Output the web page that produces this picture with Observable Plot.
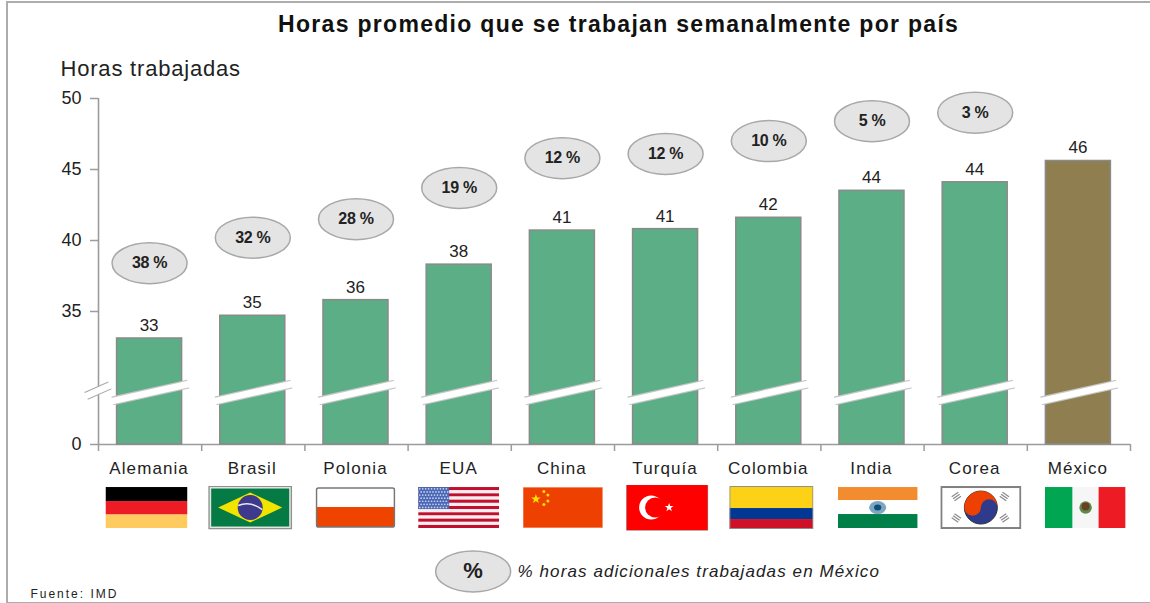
<!DOCTYPE html>
<html lang="es">
<head>
<meta charset="utf-8">
<script src="https://cdn.jsdelivr.net/npm/d3@7"></script>
<script src="https://cdn.jsdelivr.net/npm/@observablehq/plot@0.6"></script>
<style>
html,body{margin:0;padding:0;background:#fff;overflow:hidden}
#wrap{position:relative;width:1150px;height:603px;overflow:hidden}
#edge{position:absolute;left:6px;top:1px;width:1200px;height:599px;border:2px solid #adadad}
#chart{position:absolute;left:0;top:0}
#chart svg{display:block}
</style>
</head>
<body>
<div id="wrap"><div id="edge"></div><div id="chart"></div></div>
<script>
// ---- data ----
const paises = ["Alemania","Brasil","Polonia","EUA","China","Turquía","Colombia","India","Corea","México"];
const horas = [33.1,34.7,35.8,38.3,40.7,40.8,41.6,43.5,44.1,45.6];
const porcentajes = [38,32,28,19,12,12,10,5,3];
const ticksHoras = [0,35,40,45,50];

// ---- layout helpers (annotation placement, not data) ----
const burbujaY = [38.4,40.2,41.5,43.7,45.8,46.1,47,48.4,49];
const banderaDx = [-0.035,-0.03,-0.01,-0.01,0,0.01,0.02,0.05,0.05,0.06];
const filas = {titulo:55.2, ejeTitulo:52.05, pais:-11.6, bandera:-30.5, leyenda:-61.4, fuente:-72.6};

const GRIS="#9c9c9c", TXT="#222";

const ellipse = {draw(c){
  const rx=37.5, ry=20.5, k=0.5523;
  c.moveTo(rx,0);
  c.bezierCurveTo(rx,ry*k,rx*k,ry,0,ry);
  c.bezierCurveTo(-rx*k,ry,-rx,ry*k,-rx,0);
  c.bezierCurveTo(-rx,-ry*k,-rx*k,-ry,0,-ry);
  c.bezierCurveTo(rx*k,-ry,rx,-ry*k,rx,0);
  c.closePath();
}};

const spaced = px => (i,s,v,d,c,next) => {
  const g = next(i,s,v,d,c);
  g.style.letterSpacing = px;
  return g;
};

const star = (cx,cy,r,fill) => {
  let p=[];
  for(let a=0;a<10;a++){
    const R=a%2?r*0.4:r, t=-Math.PI/2+a*Math.PI/5;
    p.push((cx+R*Math.cos(t)).toFixed(2)+","+(cy+R*Math.sin(t)).toFixed(2));
  }
  return `<polygon points="${p.join(" ")}" fill="${fill}"/>`;
};

function wrapSvg(w,h,s){return `<svg xmlns="http://www.w3.org/2000/svg" viewBox="0 0 ${w} ${h}" width="${w}" height="${h}">${s}</svg>`;}
function usa(){
  let s="";
  for(let i=0;i<13;i++) s+=`<rect x="0" y="${i*3.16}" width="81" height="3.2" fill="${i%2?'#f4eef2':'#c0102e'}"/>`;
  s+=`<rect width="31" height="22" fill="#4a68b6"/>`;
  for(let r=0;r<7;r++) for(let q=0;q<10;q++) s+=`<circle cx="${1.6+q*2.95+(r%2?1.4:0)}" cy="${1.8+r*3.1}" r="0.85" fill="#c9d3ee"/>`;
  return wrapSvg(81,41,s);
}
const trig=(x,y,rot)=>`<g transform="translate(${x} ${y}) rotate(${rot})" stroke="#8a8a8a" stroke-width="1.2"><path d="M-4 -2.4H4M-4 0H4M-4 2.4H4"/></g>`;

const banderas = [
  wrapSvg(82,41,`<rect width="82" height="14" fill="#000"/><rect y="14" width="82" height="13.5" fill="#ed1c24"/><rect y="27.5" width="82" height="13.5" fill="#fecb5e"/>`),
  wrapSvg(84,44,`<rect width="84" height="44" fill="#8f8f8f"/><rect x="1.5" y="1.5" width="81" height="41" fill="#dfe8e0"/><rect x="3" y="3" width="78" height="38" fill="#067a44"/><polygon points="42,7 74,22 42,37 10,22" fill="#f3e400"/><circle cx="42" cy="22" r="12.5" fill="#3d3a8e"/><path d="M30 20 Q42 15 54 24" stroke="#e8e8e8" stroke-width="1.6" fill="none"/>`),
  wrapSvg(80,41,`<rect x="1" y="1" width="78" height="39" rx="2" fill="#fff"/><path d="M1 20H79V38a2 2 0 0 1-2 2H3a2 2 0 0 1-2-2Z" fill="#ee4400"/><rect x="1" y="1" width="78" height="39" rx="2" fill="none" stroke="#777" stroke-width="1.6"/>`),
  usa(),
  wrapSvg(80,41,`<rect width="80" height="41" fill="#ee4000" stroke="#f7c4b0"/>`+star(13,12,5,"#ffe000")+[[21,4.5],[25,8],[25,14],[21,17.5]].map(([x,y])=>`<circle cx="${x}" cy="${y}" r="1.5" fill="#ffe000"/>`).join("")),
  wrapSvg(82,46,`<rect width="82" height="46" fill="#ff0000" stroke="#999"/><circle cx="25" cy="23" r="12" fill="#fff"/><circle cx="29" cy="23" r="10" fill="#ff0000"/>`+star(43,23,4.6,"#fff")),
  wrapSvg(84,43,`<rect width="84" height="22" fill="#fdd116"/><rect y="22" width="84" height="11" fill="#003893"/><rect y="33" width="84" height="10" fill="#ce1126"/><rect x=".5" y=".5" width="83" height="42" fill="none" stroke="#8f8f8f"/>`),
  wrapSvg(80,41,`<rect width="80" height="13" fill="#f28c2e"/><rect y="13" width="80" height="14" fill="#fff"/><rect y="27" width="80" height="14" fill="#008048"/><ellipse cx="40" cy="20.5" rx="8.5" ry="6.5" fill="#7fa6c0"/><ellipse cx="40" cy="20.5" rx="3.6" ry="3" fill="#0b4f7c"/>`),
  wrapSvg(81,43,`<rect x="1" y="1" width="79" height="41" fill="#fff" stroke="#808080" stroke-width="2"/><circle cx="40.5" cy="21.5" r="16.5" fill="#2e3a8c" stroke="#333" stroke-width="1"/><path d="M24 21.5a16.5 16.5 0 0 1 33 0 8.25 8.25 0 0 0-16.5 0 8.25 8.25 0 0 1-16.5 0Z" fill="#ee4000"/>`+trig(16,10.5,-35)+trig(64,10.5,35)+trig(16,32,35)+trig(64,32,-35)),
  wrapSvg(81,41,`<rect width="28" height="41" fill="#00a651"/><rect x="28" width="26" height="41" fill="#f6f6f6"/><rect x="54" width="27" height="41" fill="#ed1c24"/><circle cx="41" cy="20.5" r="6.2" fill="#5d8a48"/><ellipse cx="41" cy="19.5" rx="4" ry="4" fill="#6b3f24"/>`)
];
const src = s => "data:image/svg+xml;charset=utf-8," + encodeURIComponent(s);
const tam = s => s.match(/width="(\d+)" height="(\d+)">/).slice(1).map(Number);

const filasDatos = paises.map((pais,i)=>({pais,i,horas:horas[i],mx:pais==="México"}));
const burbujas = porcentajes.map((p,i)=>({p,i,y:burbujaY[i]}));
const fuente = {fontFamily:"'Liberation Sans',Arial,sans-serif"};

const plot = Plot.plot({
  width:1150, height:603, marginLeft:98, marginRight:20, marginTop:98, marginBottom:159,
  style:{background:"transparent"},
  x:{type:"linear", domain:[0,10], range:[98,1130]},
  y:{type:"linear", domain:[0,30,50], range:[444,382,98]},
  marks:[
    Plot.ruleX([0],{y1:0,y2:50,stroke:GRIS,strokeWidth:1.6}),
    Plot.ruleY([0],{x1:0,x2:10,stroke:GRIS,strokeWidth:1.6}),
    Plot.axisX(d3.range(11),{anchor:"bottom",tickSize:7,tickFormat:()=>"",stroke:GRIS,strokeWidth:1.5,label:null}),
    Plot.axisY(ticksHoras,{anchor:"left",tickSize:8,tickPadding:9,stroke:GRIS,strokeWidth:1.5,fill:TXT,fontSize:18,label:null,...fuente}),
    Plot.rectY(filasDatos,{
      x1:d=>d.i+0.18, x2:d=>d.i+0.81, y:"horas",
      fill:d=>d.mx?"#8f7f50":"#5bae85", stroke:"#8a8a8a", strokeWidth:1.5
    }),
    // corte del eje y de cada barra
    Plot.link(filasDatos,{x1:d=>d.i+0.135,x2:d=>d.i+0.87,y1:21.1,y2:29.2,stroke:"#c6c6c6",strokeWidth:9}),
    Plot.link(filasDatos,{x1:d=>d.i+0.13,x2:d=>d.i+0.875,y1:21.0,y2:29.3,stroke:"#fff",strokeWidth:6.6}),
    Plot.link([0],{x1:-0.12,x2:0.11,y1:23.5,y2:28.6,stroke:"#a8a8a8",strokeWidth:8.5}),
    Plot.link([0],{x1:-0.13,x2:0.12,y1:23.3,y2:28.8,stroke:"#fff",strokeWidth:6.4}),
    Plot.text(filasDatos,{x:d=>d.i+0.5,y:"horas",dy:-13,dx:-1,text:d=>d3.format(".0f")(d.horas),fontSize:17,fill:TXT,...fuente}),
    Plot.dot(burbujas,{x:d=>d.i+0.5,y:"y",dx:-0.5,symbol:ellipse,r:1,fill:"#e4e4e4",stroke:"#a8a8a8",strokeWidth:1.5}),
    Plot.text(burbujas,{x:d=>d.i+0.5,y:"y",dx:-0.5,text:d=>d.p+" %",fontSize:16,fontWeight:"bold",fill:TXT,render:spaced("-0.3px"),...fuente}),
    Plot.text(filasDatos,{x:d=>d.i+0.5,y:filas.pais,dx:-1,text:"pais",fontSize:17,fill:TXT,render:spaced("1.1px"),...fuente}),
    Plot.image(filasDatos,{x:d=>d.i+0.5+banderaDx[d.i],y:filas.bandera,src:d=>src(banderas[d.i]),width:d=>tam(banderas[d.i])[0],height:d=>tam(banderas[d.i])[1]}),
    Plot.dot([3.63],{x:d=>d,y:filas.leyenda,symbol:ellipse,r:1,fill:"#e4e4e4",stroke:"#a8a8a8",strokeWidth:1.5}),
    Plot.text(["%"],{x:3.63,y:filas.leyenda,fontSize:22,fontWeight:"bold",fill:TXT,...fuente}),
    Plot.text(["% horas adicionales trabajadas en México"],{x:4.06,y:filas.leyenda,textAnchor:"start",fontSize:17,fontStyle:"italic",fill:TXT,render:spaced("1.1px"),...fuente}),
    Plot.text(["Horas promedio que se trabajan semanalmente por país"],{x:5.04,y:filas.titulo,fontSize:23,fontWeight:"bold",fill:"#111",render:spaced("1.3px"),...fuente}),
    Plot.text(["Horas trabajadas"],{x:-0.368,y:filas.ejeTitulo,textAnchor:"start",fontSize:22,fill:TXT,render:spaced("0.8px"),...fuente}),
    Plot.text(["Fuente: IMD"],{x:-0.66,y:filas.fuente,textAnchor:"start",fontSize:12,fill:TXT,render:spaced("2px"),...fuente})
  ]
});
document.getElementById("chart").appendChild(plot);
</script>
</body>
</html>
